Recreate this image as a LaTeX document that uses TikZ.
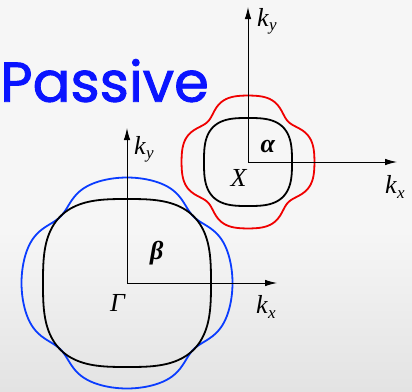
\documentclass[tikz,border=0pt]{standalone}
\usepackage{fontspec}
\setmainfont{Liberation Serif}
\newfontfamily\passfont[FakeBold=1.6]{Poppins}
\usepackage{tikz}
\usepackage{xcolor}
\usetikzlibrary{arrows.meta}

\definecolor{bgtop}{HTML}{F6F6F6}
\definecolor{bgbot}{HTML}{E3E3E3}
\definecolor{passblue}{HTML}{0A14FF}
\definecolor{fsblue}{HTML}{0A3CFF}
\definecolor{fsred}{HTML}{F00000}

\newcommand{\kk}[1]{\textit{k}\raisebox{-4.5pt}{\fontsize{17}{17}\selectfont\textit{#1}}}

\begin{document}
\begin{tikzpicture}[x=1pt,y=-1pt,
  axis/.style={line width=0.9pt,-{Latex[length=12pt,width=6.5pt]}},
  fs/.style={line width=1.8pt,line join=round},
  lbl/.style={inner sep=0pt,font=\fontsize{26}{28}\selectfont},
  declare function={
    sq(\t,\n)=1/pow(pow(abs(cos(\t)),\n)+pow(abs(sin(\t)),\n),1/\n);
    dip(\t,\w)=exp(-pow((mod(\t,90)-45)/\w,2));
  }]
  % background
  \useasboundingbox (0,0) rectangle (412,391);
  \fill[bgtop] (0,0) rectangle (412,391);
  \shade[top color=bgtop,bottom color=bgbot] (0,230) rectangle (412,391);

  % title
  \node[anchor=base west,inner sep=0pt,text=passblue,
        font=\passfont\fontsize{56}{56}\selectfont] (title) at (0,101.7) {Passive};

  % centres and axis ends
  \coordinate (X)  at (248,162);
  \coordinate (Xx) at (397,162);
  \coordinate (Xy) at (248,7);
  \coordinate (G)  at (127,283);
  \coordinate (Gx) at (277,283);
  \coordinate (Gy) at (127,128);

  % pockets around X
  \draw[fs,fsred,shift={(X)}] plot[domain=0:359,samples=180,smooth cycle]
    (\x:{66.5*sq(\x,2.5)-14.3*dip(\x,18)});
  \draw[fs,black,shift={(X)}] plot[domain=0:359,samples=180,smooth cycle]
    (\x:{44*sq(\x,3)});

  % pockets around Gamma
  \draw[fs,fsblue,shift={(G)}] plot[domain=0:359,samples=180,smooth cycle]
    (\x:{105.5-11.5*dip(\x,14)});
  \draw[fs,black,shift={(G)}] plot[domain=0:359,samples=180,smooth cycle]
    (\x:{84*sq(\x,3)});

  % axes
  \draw[axis] (X) -- (Xx);
  \draw[axis] (X) -- (Xy);
  \draw[axis] (G) -- (Gx);
  \draw[axis] (G) -- (Gy);

  % labels
  \node[lbl,anchor=base west] (kyX) at (257,26) {\kk{y}};
  \node[lbl,anchor=base west] (kxX) at (385,193.5) {\kk{x}};
  \node[lbl,anchor=base west] (kyG) at (134,154) {\kk{y}};
  \node[lbl,anchor=base west] (kxG) at (256,313.5) {\kk{x}};
  \node[lbl] (Xlab) at (239,177.7) {\textit{X}};
  \node[lbl] (Glab) at (118,302.5) {\textit{Γ}};
  \node[lbl] (alab) at (268,146.5) {\textbf{\textit{α}}};
  \node[lbl] (blab) at (156.7,253) {\textbf{\textit{β}}};
\end{tikzpicture}
\end{document}
